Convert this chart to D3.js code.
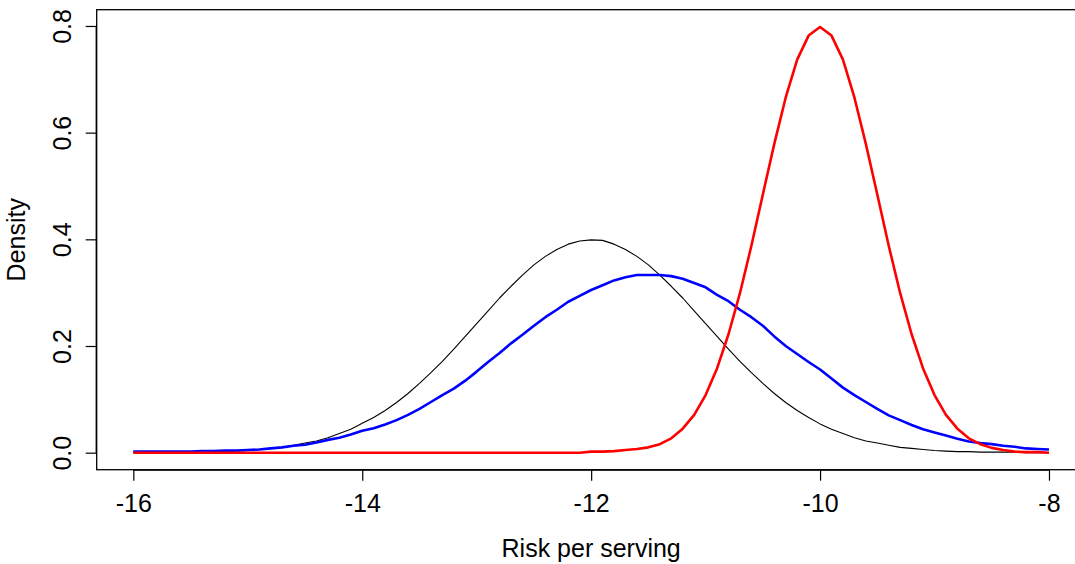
<!DOCTYPE html>
<html>
<head>
<meta charset="utf-8">
<script src="https://cdn.jsdelivr.net/npm/d3@7"></script>
<style>
  html, body { margin: 0; padding: 0; background: #fff; }
  svg { display: block; font-family: "Liberation Sans", Arial, sans-serif; }
</style>
</head>
<body>
<svg id="chart"></svg>
<script>
// risk per serving (log scale), common grid for all three densities
const riskX = [
  -16.0, -15.9, -15.8, -15.7, -15.6, -15.5, -15.4, -15.3, -15.2, -15.1,
  -15.0, -14.9, -14.8, -14.7, -14.6, -14.5, -14.4, -14.3, -14.2, -14.1,
  -14.0, -13.9, -13.8, -13.7, -13.6, -13.5, -13.4, -13.3, -13.2, -13.1,
  -13.0, -12.9, -12.8, -12.7, -12.6, -12.5, -12.4, -12.3, -12.2, -12.1,
  -12.0, -11.9, -11.8, -11.7, -11.6, -11.5, -11.4, -11.3, -11.2, -11.1,
  -11.0, -10.9, -10.8, -10.7, -10.6, -10.5, -10.4, -10.3, -10.2, -10.1,
  -10.0, -9.9, -9.8, -9.7, -9.6, -9.5, -9.4, -9.3, -9.2, -9.1,
  -9.0, -8.9, -8.8, -8.7, -8.6, -8.5, -8.4, -8.3, -8.2, -8.1,
  -8.0
];

// black curve
const densityBlack = [
  0.000, 0.000, 0.000, 0.000, 0.001, 0.001, 0.001, 0.002, 0.002, 0.003,
  0.004, 0.006, 0.008, 0.010, 0.014, 0.018, 0.022, 0.028, 0.036, 0.044,
  0.055, 0.066, 0.079, 0.094, 0.111, 0.130, 0.150, 0.171, 0.194, 0.218,
  0.242, 0.266, 0.290, 0.312, 0.333, 0.352, 0.368, 0.381, 0.391, 0.397,
  0.399, 0.398, 0.391, 0.381, 0.368, 0.352, 0.333, 0.312, 0.290, 0.266,
  0.242, 0.218, 0.194, 0.171, 0.150, 0.130, 0.111, 0.094, 0.079, 0.066,
  0.054, 0.044, 0.036, 0.028, 0.022, 0.018, 0.014, 0.010, 0.008, 0.006,
  0.004, 0.003, 0.002, 0.002, 0.001, 0.001, 0.001, 0.001, 0.000, 0.000,
  0.000
];

// blue curve
const densityBlue = [
  0.002, 0.002, 0.002, 0.002, 0.002, 0.002, 0.003, 0.003, 0.004, 0.004,
  0.005, 0.006, 0.008, 0.010, 0.013, 0.015, 0.019, 0.024, 0.028, 0.034,
  0.041, 0.046, 0.053, 0.061, 0.071, 0.082, 0.095, 0.108, 0.120, 0.135,
  0.152, 0.170, 0.187, 0.205, 0.221, 0.238, 0.254, 0.268, 0.283, 0.294,
  0.305, 0.314, 0.323, 0.329, 0.333, 0.333, 0.333, 0.331, 0.326, 0.318,
  0.310, 0.296, 0.284, 0.268, 0.254, 0.238, 0.218, 0.200, 0.185, 0.170,
  0.156, 0.139, 0.122, 0.108, 0.095, 0.082, 0.070, 0.061, 0.052, 0.044,
  0.038, 0.032, 0.026, 0.021, 0.018, 0.016, 0.013, 0.011, 0.008, 0.007,
  0.006
];

// red curve
const densityRed = [
  0.000, 0.000, 0.000, 0.000, 0.000, 0.000, 0.000, 0.000, 0.000, 0.000,
  0.000, 0.000, 0.000, 0.000, 0.000, 0.000, 0.000, 0.000, 0.000, 0.000,
  0.000, 0.000, 0.000, 0.000, 0.000, 0.000, 0.000, 0.000, 0.000, 0.000,
  0.000, 0.000, 0.000, 0.000, 0.000, 0.000, 0.000, 0.000, 0.000, 0.000,
  0.002, 0.002, 0.003, 0.005, 0.007, 0.010, 0.016, 0.027, 0.045, 0.071,
  0.108, 0.158, 0.222, 0.299, 0.388, 0.484, 0.579, 0.666, 0.737, 0.782,
  0.798, 0.782, 0.737, 0.666, 0.579, 0.484, 0.388, 0.299, 0.222, 0.158,
  0.108, 0.071, 0.045, 0.027, 0.016, 0.009, 0.005, 0.002, 0.001, 0.001,
  0.000
];

const xTicks = [-16, -14, -12, -10, -8];
const yTicks = [0.0, 0.2, 0.4, 0.6, 0.8];

const width = 1075, height = 564;
// plot box (R style, 4% padding on each axis)
const box = { left: 96.7, right: 1085.6, top: 9.7, bottom: 469.7 };

const svg = d3.select("#chart")
    .attr("width", width)
    .attr("height", height);

svg.append("rect")
    .attr("width", width)
    .attr("height", height)
    .attr("fill", "#fff");

const xScale = d3.scaleLinear()
    .domain([-16.32, -7.68])
    .range([box.left, box.right]);

const yScale = d3.scaleLinear()
    .domain([-0.0319, 0.8305])
    .range([box.bottom, box.top]);

// box around plot region
svg.append("rect")
    .attr("x", box.left)
    .attr("y", box.top)
    .attr("width", box.right - box.left)
    .attr("height", box.bottom - box.top)
    .attr("fill", "none")
    .attr("stroke", "#000")
    .attr("stroke-width", 1.3);

// x axis
const xAxis = svg.append("g")
    .attr("transform", `translate(0, ${box.bottom})`)
    .call(d3.axisBottom(xScale).tickValues(xTicks).tickSize(11).tickPadding(14).tickFormat(d3.format("d")));
xAxis.select(".domain")
    .attr("d", `M${xScale(-16)},0.5H${xScale(-8)}`)
    .attr("stroke-width", 1.2);
xAxis.selectAll(".tick line").attr("stroke-width", 1.2);
xAxis.selectAll(".tick text")
    .attr("fill", "#000")
    .style("font-size", "25px")
    .text(d => d3.format("d")(d).replace("\u2212", "-"));

// y axis, labels rotated like R's default
const yAxis = svg.append("g")
    .attr("transform", `translate(${box.left}, 0)`)
    .call(d3.axisLeft(yScale).tickValues(yTicks).tickSize(11).tickFormat(d3.format(".1f")));
yAxis.select(".domain")
    .attr("d", `M-0.5,${yScale(0)}V${yScale(0.8)}`)
    .attr("stroke-width", 1.2);
yAxis.selectAll(".tick line").attr("stroke-width", 1.2);
yAxis.selectAll(".tick text")
    .attr("fill", "#000")
    .style("font-size", "25px")
    .attr("x", null)
    .attr("dy", null)
    .attr("text-anchor", "middle")
    .attr("transform", "translate(-26, 0) rotate(-90)");

// axis titles
svg.append("text")
    .attr("x", (box.left + box.right) / 2)
    .attr("y", 557)
    .attr("text-anchor", "middle")
    .style("font-size", "25px")
    .text("Risk per serving");

svg.append("text")
    .attr("transform", `translate(25, ${(box.top + box.bottom) / 2}) rotate(-90)`)
    .attr("text-anchor", "middle")
    .style("font-size", "25px")
    .text("Density");

// density curves
const series = [
  { values: densityBlack, color: "#000000", width: 1.1 },
  { values: densityBlue, color: "#0000FF", width: 2.6 },
  { values: densityRed, color: "#FF0000", width: 2.6 }
];

const line = d3.line()
    .x(d => xScale(d[0]))
    .y(d => yScale(d[1]));

const clip = svg.append("clipPath").attr("id", "plotclip")
    .append("rect")
    .attr("x", box.left)
    .attr("y", box.top)
    .attr("width", box.right - box.left)
    .attr("height", box.bottom - box.top);

series.forEach(s => {
    svg.append("path")
        .datum(riskX.map((x, i) => [x, s.values[i]]))
        .attr("clip-path", "url(#plotclip)")
        .attr("fill", "none")
        .attr("stroke", s.color)
        .attr("stroke-width", s.width)
        .attr("stroke-linejoin", "round")
        .attr("d", line);
});
</script>
</body>
</html>
